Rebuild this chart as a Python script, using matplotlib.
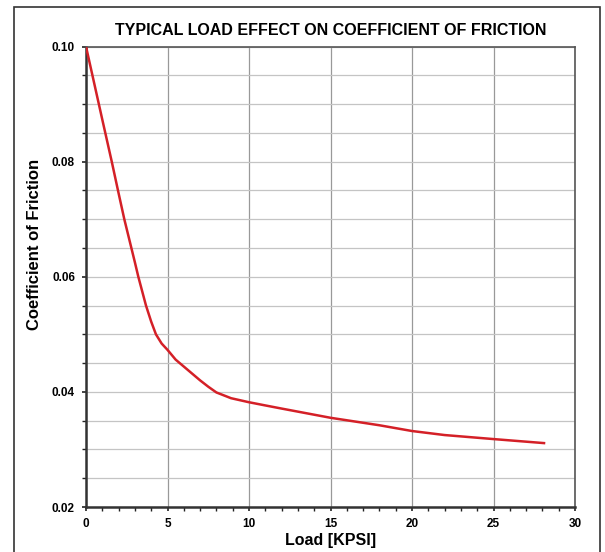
import numpy as np
import matplotlib.pyplot as plt
from matplotlib.patches import Rectangle
from matplotlib.ticker import MultipleLocator

plt.rcParams['font.family'] = ['Liberation Sans', 'DejaVu Sans']
plt.rcParams['font.weight'] = 'bold'

# load (kpsi) and coefficient of friction
load = [0, 1, 1.58, 2, 2.35, 3, 3.21, 3.68, 4.0, 4.29, 4.64, 5, 5.5, 6.0, 6.5, 7.0, 7.5, 8.0, 8.9,
        10, 10.9, 12, 15, 18, 20, 22, 25, 28.1]
friction = [0.100, 0.0873, 0.080, 0.0745, 0.070, 0.0625, 0.060, 0.055, 0.0522, 0.050, 0.0484, 0.0473,
            0.0456, 0.0444, 0.0432, 0.0420, 0.0409, 0.0399, 0.0389, 0.0382, 0.0377, 0.0371, 0.0355,
            0.0342, 0.0332, 0.0325, 0.0318, 0.0311]

x_ticks = [0, 5, 10, 15, 20, 25, 30]
y_ticks = [0.02, 0.04, 0.06, 0.08, 0.10]

fig = plt.figure(figsize=(6.05, 5.52), dpi=100)
ax = fig.add_axes([86/605, 1-507/552, (575-86)/605, (507-46.5)/552])

# outer frame around the whole figure
fig.patches.append(Rectangle((14/605, -0.1), (600-14)/605, 1.1-7/552, transform=fig.transFigure,
                             fill=False, edgecolor='#333333', linewidth=1.2))

ax.plot(load, friction, color='#d42027', linewidth=1.8, zorder=3)

ax.set_xlim(0, 30)
ax.set_ylim(0.02, 0.10)
ax.set_xticks(x_ticks)
ax.set_yticks(y_ticks)
ax.set_yticklabels(['%.2f' % v for v in y_ticks])
ax.xaxis.set_minor_locator(MultipleLocator(1))
ax.yaxis.set_minor_locator(MultipleLocator(0.005))

ax.grid(axis='x', which='major', color='#999999', linewidth=0.9)
ax.grid(axis='y', which='both', color='#c4c4c4', linewidth=0.9)
ax.set_axisbelow(True)

ax.tick_params(axis='both', which='major', direction='out', length=3, width=1.2, labelsize=8.5,
               color='#222222', pad=5)
ax.tick_params(axis='both', which='minor', direction='out', length=3, width=1.0, color='#222222')

for s in ['left', 'bottom']:
    ax.spines[s].set_linewidth(1.8)
    ax.spines[s].set_color('#333333')
for s in ['top', 'right']:
    ax.spines[s].set_linewidth(1.2)
    ax.spines[s].set_color('#555555')

ax.set_xlabel('Load [KPSI]', fontsize=11.5, fontweight='bold', labelpad=2)
ax.set_ylabel('Coefficient of Friction', fontsize=12, fontweight='bold')
ax.yaxis.set_label_coords(-0.09, 0.571)
ax.set_title('TYPICAL LOAD EFFECT ON COEFFICIENT OF FRICTION', fontsize=11.5, fontweight='bold', pad=8)

plt.savefig('out.png', dpi=100)
